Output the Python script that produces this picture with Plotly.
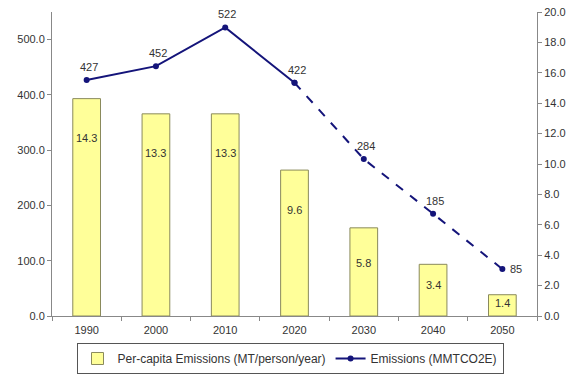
import plotly.graph_objects as go

years = ["1990", "2000", "2010", "2020", "2030", "2040", "2050"]
per_capita = [14.3, 13.3, 13.3, 9.6, 5.8, 3.4, 1.4]
emissions = [427, 452, 522, 422, 284, 185, 85]
hist_n = 4  # 1990-2020 solid, 2020-2050 dashed

font = dict(family="Liberation Sans, Arial, sans-serif", size=11, color="#333333")
navy = "#14147a"

fig = go.Figure()
fig.add_trace(go.Bar(
    x=years, y=per_capita, yaxis="y2",
    name="Per-capita Emissions (MT/person/year)",
    marker=dict(color="#ffff99", line=dict(color="#8a8a5c", width=1)),
    width=0.4,
))
# bar value labels (x given as category index)
for i, v in enumerate(per_capita):
    fig.add_annotation(x=i, y=max(v - 2.6, v * 0.6), xref="x", yref="y2",
                       text=f"{v:.1f}", showarrow=False, font=font)

fig.add_trace(go.Scatter(
    x=years[:hist_n], y=emissions[:hist_n], mode="lines+markers",
    name="Emissions (MMTCO2E)",
    line=dict(color=navy, width=2),
    marker=dict(color=navy, size=6, symbol="circle"),
))
fig.add_trace(go.Scatter(
    x=years[hist_n - 1:], y=emissions[hist_n - 1:], mode="lines+markers",
    showlegend=False,
    line=dict(color=navy, width=2, dash="dash"),
    marker=dict(color=navy, size=6, symbol="circle"),
))
for i, v in enumerate(emissions):
    last = i == len(years) - 1
    fig.add_annotation(x=i, y=v, xref="x", yref="y", text=str(v), showarrow=False,
                       font=font,
                       xshift=14 if last else 2, yshift=0 if last else 13)

fig.update_layout(
    width=580, height=379,
    margin=dict(l=52, r=43, t=12, b=63, autoexpand=False),
    paper_bgcolor="white", plot_bgcolor="white",
    font=font,
    showlegend=True,
    legend=dict(orientation="h", x=0.5, xanchor="center", xref="container",
                y=0.095, yanchor="top", yref="container",
                bordercolor="#555555", borderwidth=1, font=dict(font, size=12),
                itemwidth=30, tracegroupgap=0),
    xaxis=dict(type="category", range=[-0.5, 6.5], showline=True, linecolor="#888888",
               linewidth=1, ticks="outside", tickson="boundaries", ticklen=4,
               tickcolor="#888888", showgrid=False, zeroline=False, tickangle=0,
               ticklabelstandoff=4),
    yaxis=dict(range=[0, 550], tickvals=[0, 100, 200, 300, 400, 500],
               tickformat=".1f", showline=True, linecolor="#888888", linewidth=1,
               ticks="outside", ticklen=4, tickcolor="#888888",
               showgrid=False, zeroline=False),
    yaxis2=dict(range=[0, 20], dtick=2, tickformat=".1f", overlaying="y", side="right",
                showline=True, linecolor="#888888", linewidth=1,
                ticks="outside", ticklen=4, tickcolor="#888888",
                showgrid=False, zeroline=False),
)

fig.write_html("out.html")
